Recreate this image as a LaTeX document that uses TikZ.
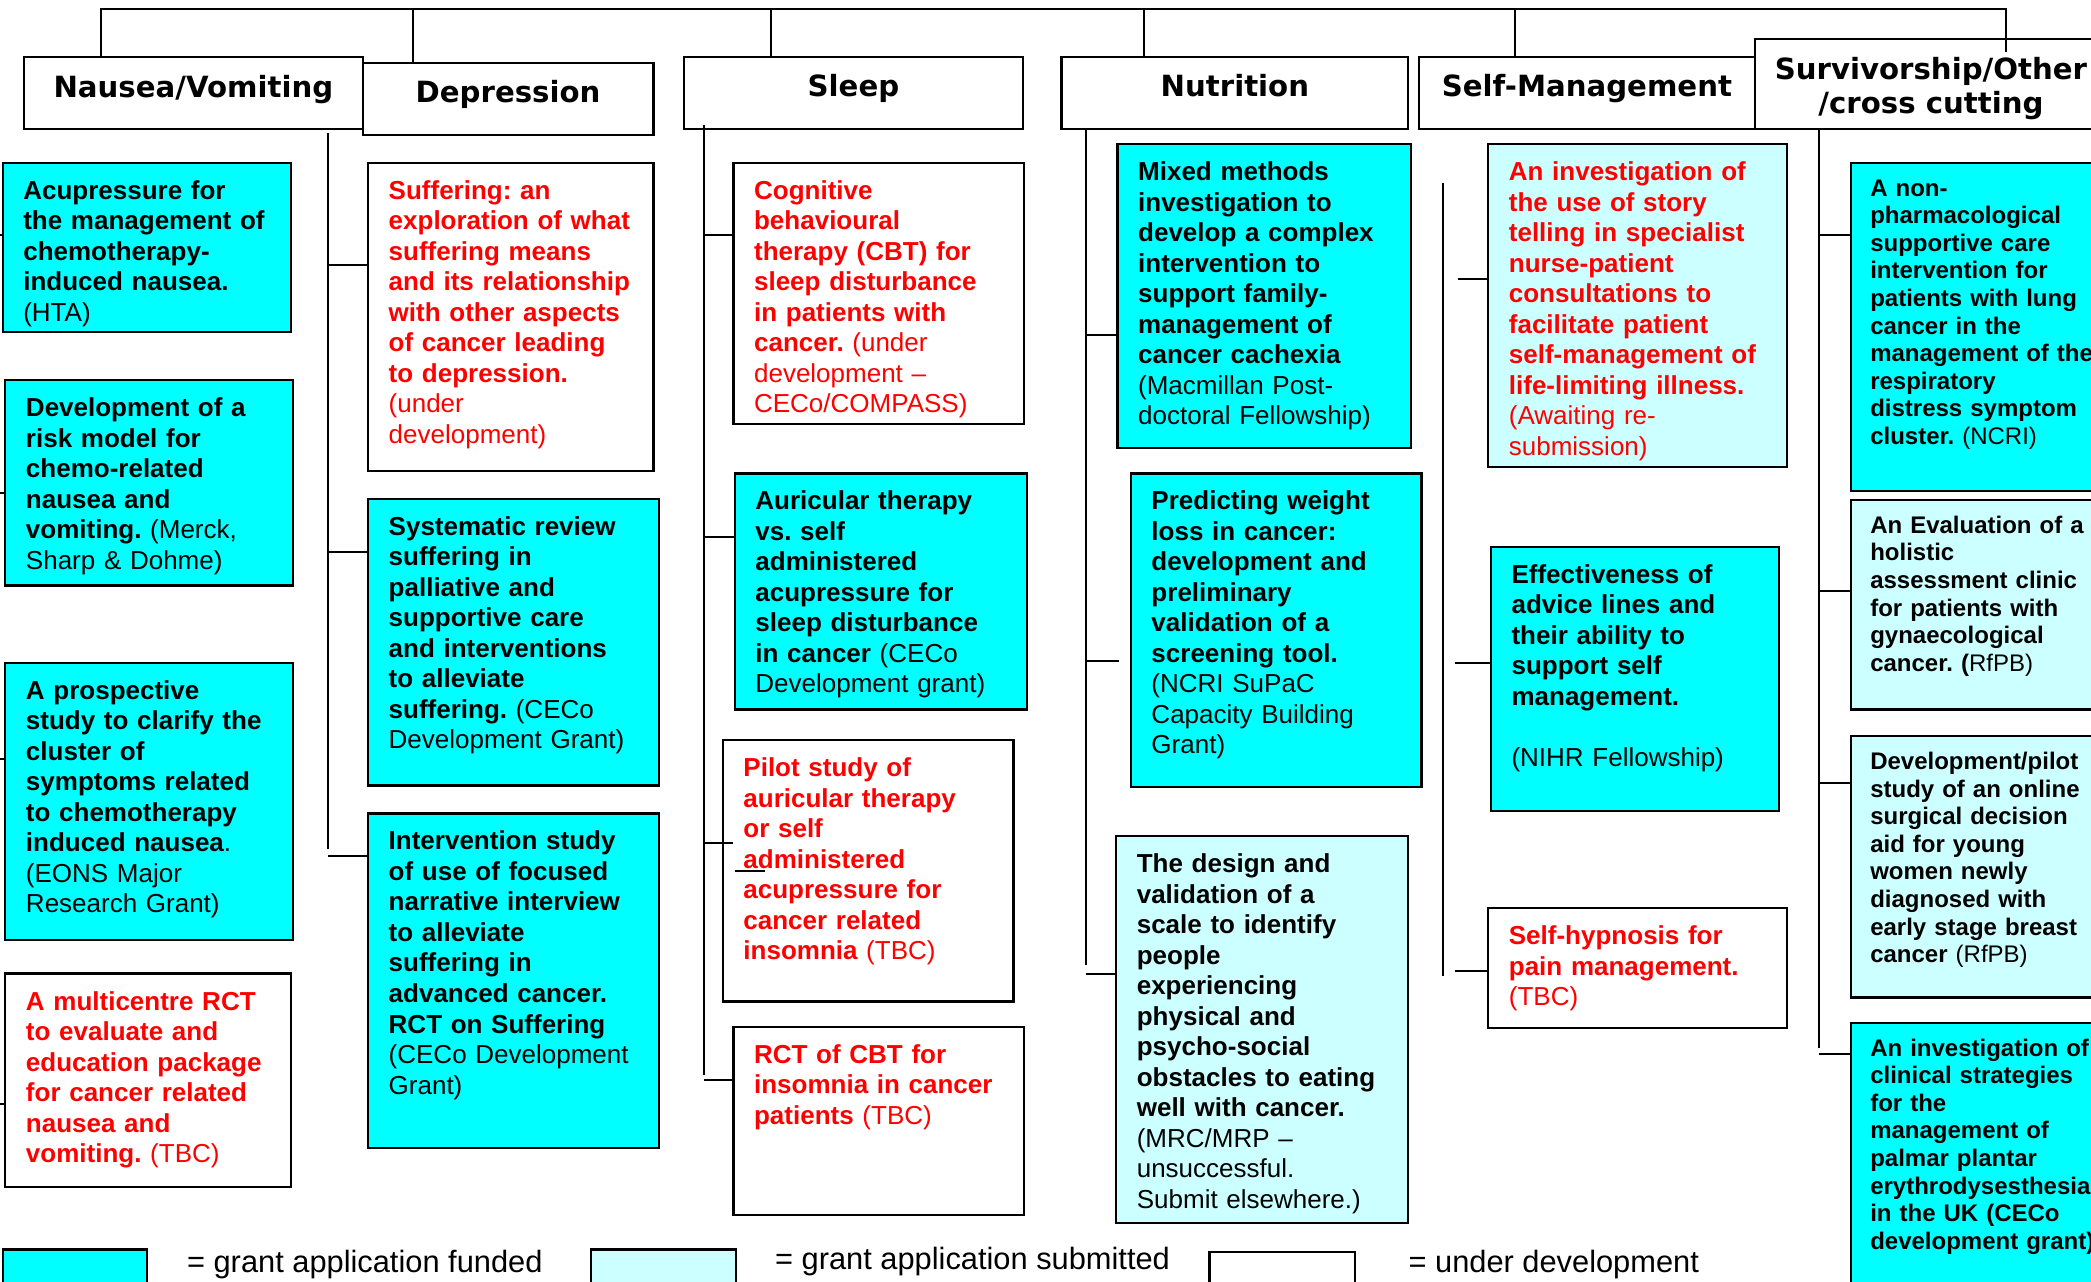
\documentclass[tikz,border=0pt]{standalone}
\usepackage{fontspec}
\setmainfont{Liberation Sans}
\newfontfamily\hdrfont{DejaVu Sans}
\usetikzlibrary{fit,calc}
\definecolor{cfund}{RGB}{0,255,255}
\definecolor{csub}{RGB}{204,255,255}
\definecolor{cred}{RGB}{255,0,0}
\frenchspacing
\tikzset{
 boxline/.style={draw=black, line width=1.1pt, inner sep=0pt},
 funded/.style={boxline, fill=cfund},
 submitted/.style={boxline, fill=csub},
 underdev/.style={boxline, fill=white},
 hdrbox/.style={boxline, fill=white},
 hdrtext/.style={anchor=base, inner sep=0pt, font=\hdrfont\bfseries\fontsize{14.6}{17.1}\selectfont},
 body/.style={anchor=north west, inner sep=0pt, text width=300pt, align=left, xshift=10.67pt, yshift=-8.6pt,
   font=\frenchspacing\fontsize{13}{15.25}\selectfont, execute at begin node={\rule{0pt}{10pt}}},
 small/.style={anchor=north west, inner sep=0pt, text width=300pt, align=left, xshift=10pt, yshift=-7.5pt,
   font=\frenchspacing\fontsize{12}{13.8}\selectfont, execute at begin node={\rule{0pt}{9.5pt}}},
 redt/.style={text=cred},
 conn/.style={draw=black, line width=1pt},
 legtext/.style={anchor=base west, inner sep=0pt, font=\fontsize{15.4}{18}\selectfont},
}
\newcommand\projbox[8]{%
 \node[#6, fit={(#2,#3) (#4,#5)}] (#1) {};
 \node[#7] at (#1.north west) {#8};
}
\begin{document}
\begin{tikzpicture}[x=0.66667pt, y=-0.66667pt]
\useasboundingbox (0,0) rectangle (1568,961);
\clip (0,0) rectangle (1568,961);
\fill[white] (0,0) rectangle (1568,961);

% headers
\node[hdrbox, fit={(18,43) (272,97)}] (hN) {};
\node[hdrtext] (tN) at (145,73) {Nausea/Vomiting};
\node[hdrbox, fit={(272,47) (490,101)}] (hD) {};
\node[hdrtext] (tD) at (381,77) {Depression};
\node[hdrbox, fit={(513,43) (767,97)}] (hSl) {};
\node[hdrtext] (tSl) at (640,72.5) {Sleep};
\node[hdrbox, fit={(796,43) (1056,97)}] (hNu) {};
\node[hdrtext] (tNu) at (926,72.5) {Nutrition};
\node[hdrbox, fit={(1064,43) (1316,97)}] (hM) {};
\node[hdrtext] (tM) at (1190,72.5) {Self-Management};
\node[hdrbox, fit={(1316,29) (1620,97)}] (hS) {};
\node[hdrtext] (tS1) at (1448,59.3) {Survivorship/Other};
\node[hdrtext] (tS2) at (1448,85) {/cross cutting};

% Nausea column
\projbox{n1}{2}{122}{218}{249}{funded}{body}{\bfseries Acupressure for\\the management of\\chemotherapy-\\induced nausea.\\\mdseries (HTA)}
\projbox{n2}{4}{285}{220}{439}{funded}{body}{\bfseries Development of a\\risk model for\\chemo-related\\nausea and\\vomiting. \mdseries(Merck,\\Sharp \& Dohme)}
\projbox{n3}{4}{497}{220}{705}{funded}{body}{\bfseries A prospective\\study to clarify the\\cluster of\\symptoms related\\to chemotherapy\\induced nausea\mdseries.\\(EONS Major\\Research Grant)}
\projbox{n4}{4}{730}{218}{890}{underdev}{body,redt}{\bfseries A multicentre RCT\\to evaluate and\\education package\\for cancer related\\nausea and\\vomiting. \mdseries(TBC)}

% Depression column
\projbox{d1}{276}{122}{490}{353}{underdev}{body,redt}{\bfseries Suffering: an\\exploration of what\\suffering means\\and its relationship\\with other aspects\\of cancer leading\\to depression.\\\mdseries (under\\development)}
\projbox{d2}{276}{374}{494}{589}{funded}{body}{\bfseries Systematic review\\suffering in\\palliative and\\supportive care\\and interventions\\to alleviate\\suffering. \mdseries(CECo\\Development Grant)}
\projbox{d3}{276}{610}{494}{861}{funded}{body}{\bfseries Intervention study\\of use of focused\\narrative interview\\to alleviate\\suffering in\\advanced cancer.\\RCT on Suffering\\\mdseries (CECo Development\\Grant)}

% Sleep column
\projbox{s1}{550}{122}{768}{318}{underdev}{body,redt}{\bfseries Cognitive\\behavioural\\therapy (CBT) for\\sleep disturbance\\in patients with\\cancer. \mdseries(under\\development –\\CECo/COMPASS)}
\projbox{s2}{551}{355}{770}{532}{funded}{body}{\bfseries Auricular therapy\\vs. self\\administered\\acupressure for\\sleep disturbance\\in cancer \mdseries(CECo\\Development grant)}
\projbox{s3}{542}{555}{760}{751}{underdev}{body,redt}{\bfseries Pilot study of\\auricular therapy\\or self\\administered\\acupressure for\\cancer related\\insomnia \mdseries(TBC)}
\projbox{s4}{550}{770}{768}{911}{underdev}{body,redt}{\bfseries RCT of CBT for\\insomnia in cancer\\patients \mdseries(TBC)}

% Nutrition column
\projbox{u1}{838}{108}{1058}{336}{funded}{body}{\bfseries Mixed methods\\investigation to\\develop a complex\\intervention to\\support family-\\management of\\cancer cachexia\\\mdseries (Macmillan Post-\\doctoral Fellowship)}
\projbox{u2}{848}{355}{1066}{590}{funded}{body}{\bfseries Predicting weight\\loss in cancer:\\development and\\preliminary\\validation of a\\screening tool.\\\mdseries (NCRI SuPaC\\Capacity Building\\Grant)}
\projbox{u3}{837}{627}{1056}{917}{submitted}{body}{\bfseries The design and\\validation of a\\scale to identify\\people\\experiencing\\physical and\\psycho-social\\obstacles to eating\\well with cancer.\\\mdseries (MRC/MRP –\\unsuccessful.\\Submit elsewhere.)}

% Self-management column
\projbox{m1}{1116}{108}{1340}{350}{submitted}{body,redt}{\bfseries An investigation of\\the use of story\\telling in specialist\\nurse-patient\\consultations to\\facilitate patient\\self-management of\\life-limiting illness.\\\mdseries (Awaiting re-\\submission)}
\projbox{m2}{1118}{410}{1334}{608}{funded}{body}{\bfseries Effectiveness of\\advice lines and\\their ability to\\support self\\management.\\[15.25pt]\mdseries (NIHR Fellowship)}
\projbox{m3}{1116}{681}{1340}{771}{underdev}{body,redt}{\bfseries Self-hypnosis for\\pain management.\\\mdseries (TBC)}

% Survivorship column
\projbox{v1}{1388}{122}{1620}{368}{funded}{small}{\bfseries A non-\\pharmacological\\supportive care\\intervention for\\patients with lung\\cancer in the\\management of the\\respiratory\\distress symptom\\cluster. \mdseries(NCRI)}
\projbox{v2}{1388}{375}{1620}{532}{submitted}{small}{\bfseries An Evaluation of a\\holistic\\assessment clinic\\for patients with\\gynaecological\\cancer. (\mdseries RfPB)}
\projbox{v3}{1388}{552}{1620}{748}{submitted}{small}{\bfseries Development/pilot\\study of an online\\surgical decision\\aid for young\\women newly\\diagnosed with\\early stage breast\\cancer \mdseries(RfPB)}
\projbox{v4}{1388}{767}{1620}{1000}{funded}{small}{\bfseries An investigation of\\clinical strategies\\for the\\management of\\palmar plantar\\erythrodysesthesia\\in the UK (CECo\\development grant)}

% legend
\node[funded, fit={(2,937) (110,990)}] (l1) {};
\node[legtext] (lt1) at (140,954) {= grant application funded};
\node[submitted, fit={(443,937) (552,990)}] (l2) {};
\node[legtext] (lt2) at (581,952) {= grant application submitted};
\node[underdev, fit={(907,939) (1016,990)}] (l3) {};
\node[legtext] (lt3) at (1056,954) {= under development};

% top tree
\coordinate (tl) at (76,7);
\coordinate (tr) at (1504,7);
\coordinate (trend) at (1504,39);
\draw[conn] (hN.north -| tl) -- (tl) -- (tr) -- (trend);
\coordinate (dD) at (310,7);   \draw[conn] (dD) -- (hD.north -| dD);
\coordinate (dSl) at (578,7);  \draw[conn] (dSl) -- (hSl.north -| dSl);
\coordinate (dNu) at (858,7);  \draw[conn] (dNu) -- (hNu.north -| dNu);
\coordinate (dM) at (1136,7);  \draw[conn] (dM) -- (hM.north -| dM);

% depression trunk
\draw[conn] (246,100) -- (246,637);
\draw[conn] (246,199) -- (d1.west |- 0,199);
\draw[conn] (246,414) -- (d2.west |- 0,414);
\draw[conn] (246,642) -- (d3.west |- 0,642);

% nausea ticks at page edge
\draw[conn] (-10,176) -- (n1.west |- 0,176);
\draw[conn] (-10,370) -- (n2.west |- 0,370);
\draw[conn] (-10,569) -- (n3.west |- 0,569);
\draw[conn] (-10,828) -- (n4.west |- 0,828);

% sleep trunk
\draw[conn] (528,94) -- (528,806);
\draw[conn] (528,176) -- (s1.west |- 0,176);
\draw[conn] (528,403) -- (s2.west |- 0,403);
\draw[conn] (527,632) -- (550,632);
\draw[conn] (551,653) -- (574,653);
\draw[conn] (528,810) -- (s4.west |- 0,810);

% nutrition trunk
\draw[conn] (814,97) -- (814,724);
\draw[conn] (814,251) -- (u1.west |- 0,251);
\draw[conn] (814,496) -- (839,496);
\draw[conn] (814,730) -- (u3.west |- 0,730);

% self-management trunk
\draw[conn] (1082,137) -- (1082,732);
\draw[conn] (1093,209) -- (m1.west |- 0,209);
\draw[conn] (1091,497) -- (m2.west |- 0,497);
\draw[conn] (1091,728) -- (m3.west |- 0,728);

% survivorship trunk
\draw[conn] (1364,97) -- (1364,786);
\draw[conn] (1364,176) -- (v1.west |- 0,176);
\draw[conn] (1364,443) -- (v2.west |- 0,443);
\draw[conn] (1364,587) -- (v3.west |- 0,587);
\draw[conn] (1364,790) -- (v4.west |- 0,790);
\end{tikzpicture}
\end{document}
